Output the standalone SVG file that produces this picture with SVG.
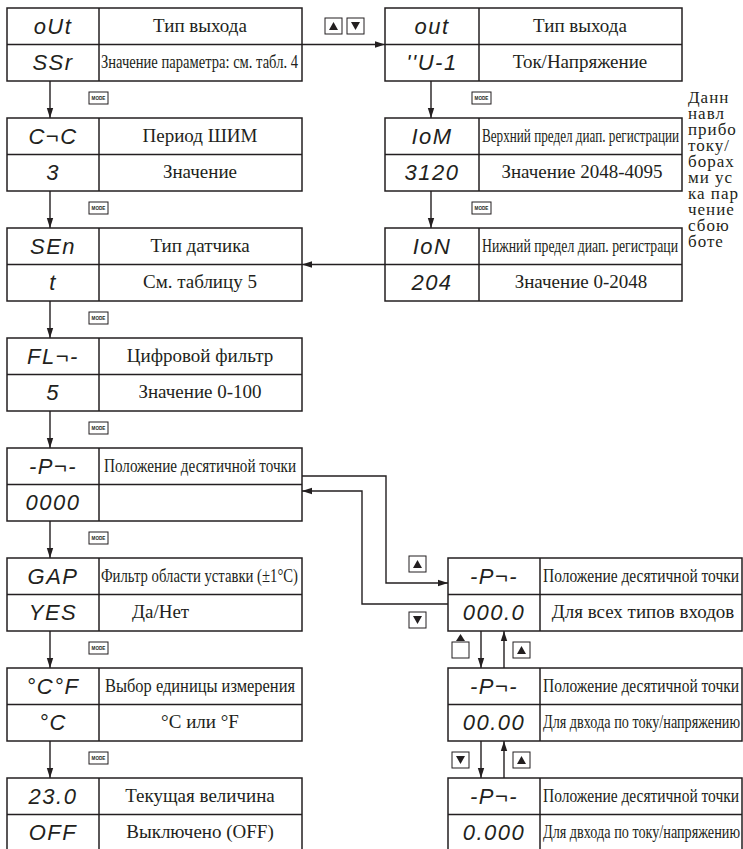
<svg xmlns="http://www.w3.org/2000/svg" width="743" height="849" viewBox="0 0 743 849">
<style>
.b{fill:#fff;stroke:#231f20;stroke-width:1.5}
.d{stroke:#231f20;stroke-width:1.5;fill:none}
.l{stroke:#231f20;stroke-width:1.4;fill:none}
.t{font-family:"Liberation Serif","Times New Roman",serif;font-size:19px;fill:#231f20}
.c{text-anchor:middle}
.s{font-family:"Liberation Sans",Arial,sans-serif;font-style:italic;font-size:22px;fill:#231f20;text-anchor:middle;letter-spacing:1.5px}
.ic{fill:#fff;stroke:#231f20;stroke-width:1}
.tri{fill:#231f20}
.mt{font-family:"Liberation Sans",Arial,sans-serif;font-size:4.6px;font-weight:bold;fill:#231f20;text-anchor:middle}
.n{font-family:"Liberation Serif","Times New Roman",serif;font-size:17px;fill:#231f20;letter-spacing:1px}
</style>
<defs>
<marker id="ah" markerUnits="userSpaceOnUse" markerWidth="11" markerHeight="8" refX="10" refY="4" orient="auto">
<path d="M0,0.8 L10,4 L0,7.2 z" fill="#231f20"/>
</marker>
<g id="mode"><rect class="ic" x="0" y="0" width="19" height="12"/><text class="mt" x="9.5" y="7.8">MODE</text></g>
<g id="up"><rect class="ic" x="0" y="0" width="17" height="16"/><path class="tri" d="M8.5,4 L13,12 L4,12 z"/></g>
<g id="dn"><rect class="ic" x="0" y="0" width="17" height="16"/><path class="tri" d="M4,4 L13,4 L8.5,12 z"/></g>
</defs>

<!-- Left column -->
<g id="n-out">
<rect class="b" x="7" y="8" width="295" height="73"/><line class="d" x1="7" y1="44.5" x2="302" y2="44.5"/><line class="d" x1="99" y1="8" x2="99" y2="81"/>
<text class="s" x="53" y="34">oUt</text><text class="s" x="53" y="70">SSr</text>
<text class="t c" x="200" y="32">Тип выхода</text>
<text class="t" x="101" y="68" textLength="197" lengthAdjust="spacingAndGlyphs">Значение параметра: см. табл. 4</text>
</g>
<g id="n-cnc">
<rect class="b" x="7" y="118" width="295" height="73"/><line class="d" x1="7" y1="154.5" x2="302" y2="154.5"/><line class="d" x1="99" y1="118" x2="99" y2="191"/>
<text class="s" x="53" y="144">C¬C</text><text class="s" x="53" y="180">3</text>
<text class="t c" x="200" y="142">Период ШИМ</text>
<text class="t c" x="200" y="178">Значение</text>
</g>
<g id="n-sen">
<rect class="b" x="7" y="228" width="295" height="73"/><line class="d" x1="7" y1="264.5" x2="302" y2="264.5"/><line class="d" x1="99" y1="228" x2="99" y2="301"/>
<text class="s" x="53" y="254">SEn</text><text class="s" x="53" y="290">t</text>
<text class="t c" x="200" y="252">Тип датчика</text>
<text class="t c" x="200" y="288">См. таблицу 5</text>
</g>
<g id="n-flt">
<rect class="b" x="7" y="338" width="295" height="73"/><line class="d" x1="7" y1="374.5" x2="302" y2="374.5"/><line class="d" x1="99" y1="338" x2="99" y2="411"/>
<text class="s" x="53" y="364">FL¬-</text><text class="s" x="53" y="400">5</text>
<text class="t c" x="200" y="362">Цифровой фильтр</text>
<text class="t c" x="200" y="398">Значение 0-100</text>
</g>
<g id="n-pt">
<rect class="b" x="7" y="448" width="295" height="73"/><line class="d" x1="7" y1="484.5" x2="302" y2="484.5"/><line class="d" x1="99" y1="448" x2="99" y2="521"/>
<text class="s" x="53" y="474">-P¬-</text><text class="s" x="53" y="510">0000</text>
<text class="t" x="104" y="472" textLength="192" lengthAdjust="spacingAndGlyphs">Положение десятичной точки</text>
</g>
<g id="n-gap">
<rect class="b" x="7" y="558" width="295" height="73"/><line class="d" x1="7" y1="594.5" x2="302" y2="594.5"/><line class="d" x1="99" y1="558" x2="99" y2="631"/>
<text class="s" x="53" y="584">GAP</text><text class="s" x="53" y="620">YES</text>
<text class="t" x="101" y="582" textLength="197" lengthAdjust="spacingAndGlyphs">Фильтр области уставки (±1°C)</text>
<text class="t" x="132" y="618">Да/Нет</text>
</g>
<g id="n-unit">
<rect class="b" x="7" y="668" width="295" height="73"/><line class="d" x1="7" y1="704.5" x2="302" y2="704.5"/><line class="d" x1="99" y1="668" x2="99" y2="741"/>
<text class="s" x="53" y="694">°C°F</text><text class="s" x="53" y="730">°C</text>
<text class="t" x="105" y="692" textLength="190" lengthAdjust="spacingAndGlyphs">Выбор единицы измерения</text>
<text class="t c" x="200" y="728">°C или °F</text>
</g>
<g id="n-cur">
<rect class="b" x="7" y="778" width="295" height="73"/><line class="d" x1="7" y1="814.5" x2="302" y2="814.5"/><line class="d" x1="99" y1="778" x2="99" y2="851"/>
<text class="s" x="53" y="804">23.0</text><text class="s" x="53" y="840">OFF</text>
<text class="t c" x="200" y="802">Текущая величина</text>
<text class="t c" x="200" y="838">Выключено (OFF)</text>
</g>

<!-- Right top column -->
<g id="n-out2">
<rect class="b" x="385" y="8" width="297" height="73"/><line class="d" x1="385" y1="44.5" x2="682" y2="44.5"/><line class="d" x1="479" y1="8" x2="479" y2="81"/>
<text class="s" x="432" y="34">out</text><text class="s" x="432" y="70">''U-1</text>
<text class="t c" x="580" y="32">Тип выхода</text>
<text class="t c" x="580" y="68">Ток/Напряжение</text>
</g>
<g id="n-iom">
<rect class="b" x="385" y="118" width="297" height="73"/><line class="d" x1="385" y1="154.5" x2="682" y2="154.5"/><line class="d" x1="479" y1="118" x2="479" y2="191"/>
<text class="s" x="432" y="144">IoM</text><text class="s" x="432" y="180">3120</text>
<text class="t" x="482" y="142" textLength="197" lengthAdjust="spacingAndGlyphs">Верхний предел диап. регистрации</text>
<text class="t c" x="582" y="178">Значение 2048-4095</text>
</g>
<g id="n-ion">
<rect class="b" x="385" y="228" width="297" height="73"/><line class="d" x1="385" y1="264.5" x2="682" y2="264.5"/><line class="d" x1="479" y1="228" x2="479" y2="301"/>
<text class="s" x="432" y="254">IoN</text><text class="s" x="432" y="290">204</text>
<text class="t" x="482" y="252" textLength="196" lengthAdjust="spacingAndGlyphs">Нижний предел диап. регистраци</text>
<text class="t c" x="581" y="288">Значение 0-2048</text>
</g>

<!-- Right lower column -->
<g id="n-p1">
<rect class="b" x="448" y="558" width="294" height="73"/><line class="d" x1="448" y1="594.5" x2="742" y2="594.5"/><line class="d" x1="540" y1="558" x2="540" y2="631"/>
<text class="s" x="494" y="584">-P¬-</text><text class="s" x="494" y="620">000.0</text>
<text class="t" x="543" y="582" textLength="196" lengthAdjust="spacingAndGlyphs">Положение десятичной точки</text>
<text class="t c" x="643" y="618">Для всех типов входов</text>
</g>
<g id="n-p2">
<rect class="b" x="448" y="668" width="294" height="73"/><line class="d" x1="448" y1="704.5" x2="742" y2="704.5"/><line class="d" x1="540" y1="668" x2="540" y2="741"/>
<text class="s" x="494" y="694">-P¬-</text><text class="s" x="494" y="730">00.00</text>
<text class="t" x="543" y="692" textLength="196" lengthAdjust="spacingAndGlyphs">Положение десятичной точки</text>
<text class="t" x="543" y="728" textLength="197" lengthAdjust="spacingAndGlyphs">Для двхода по току/напряжению</text>
</g>
<g id="n-p3">
<rect class="b" x="448" y="778" width="294" height="73"/><line class="d" x1="448" y1="814.5" x2="742" y2="814.5"/><line class="d" x1="540" y1="778" x2="540" y2="851"/>
<text class="s" x="494" y="804">-P¬-</text><text class="s" x="494" y="840">0.000</text>
<text class="t" x="543" y="802" textLength="196" lengthAdjust="spacingAndGlyphs">Положение десятичной точки</text>
<text class="t" x="543" y="838" textLength="197" lengthAdjust="spacingAndGlyphs">Для двхода по току/напряжению</text>
</g>

<!-- Side note (cut off by the right edge, as in the reference) -->
<g id="note">
<text class="n" x="688" y="103">Данн</text>
<text class="n" x="688" y="119">навл</text>
<text class="n" x="688" y="135">прибо</text>
<text class="n" x="688" y="151">току/</text>
<text class="n" x="688" y="167">борах</text>
<text class="n" x="688" y="183">ми ус</text>
<text class="n" x="688" y="199">ка пар</text>
<text class="n" x="688" y="215">чение</text>
<text class="n" x="688" y="231">сбою</text>
<text class="n" x="688" y="247">боте</text>
</g>

<!-- Connectors -->
<g id="connectors">
<line class="l" x1="50" y1="81" x2="50" y2="118" marker-end="url(#ah)"/>
<line class="l" x1="50" y1="191" x2="50" y2="228" marker-end="url(#ah)"/>
<line class="l" x1="50" y1="301" x2="50" y2="338" marker-end="url(#ah)"/>
<line class="l" x1="50" y1="411" x2="50" y2="448" marker-end="url(#ah)"/>
<line class="l" x1="50" y1="521" x2="50" y2="558" marker-end="url(#ah)"/>
<line class="l" x1="50" y1="631" x2="50" y2="668" marker-end="url(#ah)"/>
<line class="l" x1="50" y1="741" x2="50" y2="778" marker-end="url(#ah)"/>
<line class="l" x1="302" y1="44.5" x2="385" y2="44.5" marker-end="url(#ah)"/>
<line class="l" x1="431" y1="81" x2="431" y2="118" marker-end="url(#ah)"/>
<line class="l" x1="431" y1="191" x2="431" y2="228" marker-end="url(#ah)"/>
<line class="l" x1="385" y1="264.5" x2="302" y2="264.5" marker-end="url(#ah)"/>
<polyline class="l" points="302,476 386,476 386,583 448,583" marker-end="url(#ah)"/>
<polyline class="l" points="448,604 362,604 362,491 302,491" marker-end="url(#ah)"/>
<line class="l" x1="481" y1="631" x2="481" y2="668" marker-end="url(#ah)"/>
<line class="l" x1="504" y1="668" x2="504" y2="631" marker-end="url(#ah)"/>
<line class="l" x1="481" y1="741" x2="481" y2="778" marker-end="url(#ah)"/>
<line class="l" x1="504" y1="778" x2="504" y2="741" marker-end="url(#ah)"/>
</g>

<!-- Key icons -->
<g id="keys">
<use href="#mode" x="89" y="92"/>
<use href="#mode" x="89" y="202"/>
<use href="#mode" x="89" y="312"/>
<use href="#mode" x="89" y="422"/>
<use href="#mode" x="89" y="532"/>
<use href="#mode" x="89" y="642"/>
<use href="#mode" x="89" y="752"/>
<use href="#mode" x="472" y="92"/>
<use href="#mode" x="472" y="202"/>
<use href="#up" x="325" y="18"/>
<use href="#dn" x="347" y="18"/>
<use href="#up" x="409" y="556"/>
<use href="#dn" x="409" y="612"/>
<rect class="ic" x="452" y="642" width="17" height="16"/>
<path class="tri" d="M460.5,634 L465,641 L456,641 z"/>
<use href="#up" x="513" y="642"/>
<use href="#dn" x="452" y="752"/>
<use href="#up" x="513" y="752"/>
</g>
</svg>
